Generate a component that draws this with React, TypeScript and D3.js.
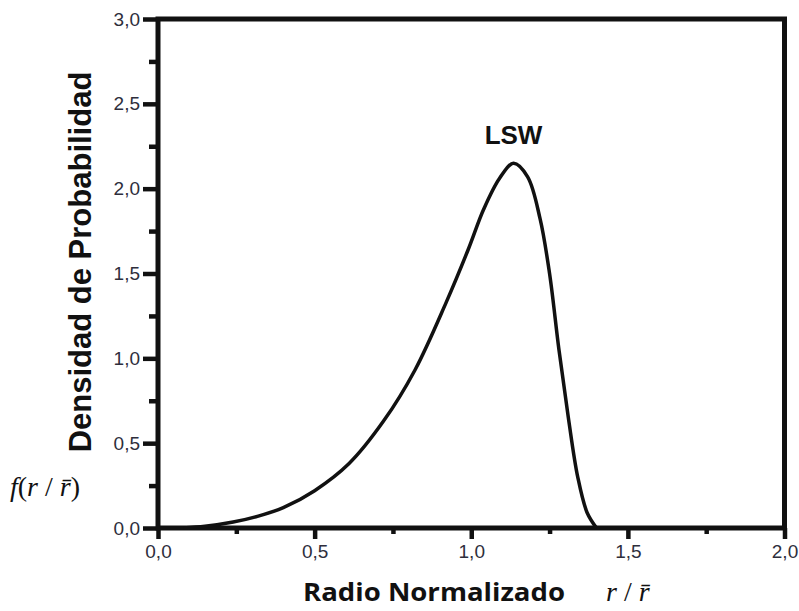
import React, { useEffect, useRef } from 'react';
import * as d3 from 'd3';

// values
const rNorm = [0.08, 0.15, 0.24, 0.32, 0.4, 0.5, 0.61, 0.72, 0.82, 0.92, 0.99, 1.04, 1.09, 1.135, 1.18, 1.22, 1.25, 1.28, 1.31, 1.34, 1.37, 1.4];
const density = [0.0, 0.01, 0.035, 0.07, 0.12, 0.22, 0.38, 0.63, 0.93, 1.33, 1.64, 1.88, 2.06, 2.15, 2.07, 1.82, 1.5, 1.05, 0.65, 0.3, 0.09, 0.0];
const xMajor = [0, 0.5, 1, 1.5, 2];
const xMinor = [0.25, 0.75, 1.25, 1.75];
const yMajor = [0, 0.5, 1, 1.5, 2, 2.5, 3];
const yMinor = [0.25, 0.75, 1.25, 1.75, 2.25, 2.75];

export default function App() {
  const ref = useRef<SVGSVGElement>(null);
  const width = 799;
  const height = 611;
  const margin = { Top: 19, Right: 14.5, Bottom: 83, Left: 158 };
  const axisW = 5;

  useEffect(() => {
    const svg = d3.select(ref.current);
    svg.selectAll('*').remove();

    const xScale = d3.scaleLinear().domain([0, 2]).range([margin.Left, width - margin.Right]);
    const yScale = d3.scaleLinear().domain([0, 3]).range([height - margin.Bottom, margin.Top]);
    const fmt = (d: any) => d3.format('.1f')(d).replace('.', ',');

    // ---- axes (minor and major in their own groups) ----
    svg.append('g').attr('transform', `translate(0,${yScale(0)})`)
      .call(d3.axisBottom(xScale).tickValues(xMinor).tickSize(6).tickSizeOuter(0).tickFormat(() => ''));
    svg.append('g').attr('transform', `translate(0,${yScale(0)})`)
      .call(d3.axisBottom(xScale).tickValues(xMajor).tickSize(11).tickPadding(6).tickSizeOuter(0).tickFormat(fmt));

    svg.append('g').attr('transform', `translate(${xScale(0)},0)`)
      .call(d3.axisLeft(yScale).tickValues(yMinor).tickSize(9).tickSizeOuter(0).tickFormat(() => ''));
    svg.append('g').attr('transform', `translate(${xScale(0)},0)`)
      .call(d3.axisLeft(yScale).tickValues(yMajor).tickSize(15).tickPadding(3).tickSizeOuter(0).tickFormat(fmt));

    svg.selectAll('.domain').remove();
    svg.selectAll('.tick line').attr('stroke', '#111').style('stroke-width', '4.5px');
    svg.selectAll('.tick text')
      .attr('fill', '#2e2e3c')
      .style('font-family', '"Liberation Sans", Arial, sans-serif')
      .style('font-size', '19px');

    // ---- frame: both axes + top and right borders ----
    svg.append('rect')
      .attr('x', xScale(0))
      .attr('y', yScale(3))
      .attr('width', xScale(2) - xScale(0))
      .attr('height', yScale(0) - yScale(3))
      .attr('fill', 'none')
      .attr('stroke', '#111')
      .attr('stroke-width', axisW);

    // ---- curve ----
    svg.append('path')
      .datum(rNorm)
      .attr('fill', 'none')
      .attr('stroke', '#111')
      .attr('stroke-width', 3.5)
      .attr('d', d3.line<number>()
        .x((d) => xScale(d))
        .y((d, i) => yScale(density[i]))
        .curve(d3.curveCatmullRom.alpha(0.5)));

    // ---- labels ----
    svg.append('text')
      .attr('x', xScale(1.135))
      .attr('y', 144)
      .attr('text-anchor', 'middle')
      .attr('font-family', '"Liberation Sans", Arial, sans-serif')
      .attr('font-weight', 'bold')
      .attr('font-size', 26)
      .attr('fill', '#111')
      .text('LSW');

    svg.append('text')
      .attr('transform', `translate(91,262) rotate(-90)`)
      .attr('text-anchor', 'middle')
      .attr('font-family', '"Liberation Sans", Arial, sans-serif')
      .attr('font-weight', 'bold')
      .attr('font-size', 31)
      .attr('fill', '#111')
      .text('Densidad de Probabilidad');

    svg.append('text')
      .attr('x', 303)
      .attr('y', 601)
      .attr('font-family', '"Open Sans", sans-serif')
      .attr('font-weight', 'bold')
      .attr('font-size', 25)
      .attr('textLength', 262)
      .attr('lengthAdjust', 'spacingAndGlyphs')
      .attr('fill', '#111')
      .text('Radio Normalizado');

    // math labels: italic variables, upright punctuation
    const mathLabel = (x: number, y: number, parts: [string, boolean][]) => {
      const t = svg.append('text')
        .attr('x', x)
        .attr('y', y)
        .attr('font-family', '"Liberation Serif", "DejaVu Serif", serif')
        .attr('font-size', 28)
        .attr('fill', '#111');
      parts.forEach(([s, it]) => {
        t.append('tspan').attr('font-style', it ? 'italic' : 'normal').text(s);
      });
    };
    mathLabel(606, 601, [['r', true], [' / ', false], ['r\u0304', true]]);
    mathLabel(10, 496, [['f', true], ['(', false], ['r', true], [' / ', false], ['r\u0304', true], [')', false]]);
  }, []);

  return (
    <svg ref={ref} width={width} height={height}
      style={{ position: 'absolute', left: 0, top: 0, background: '#fff' }} />
  );
}
